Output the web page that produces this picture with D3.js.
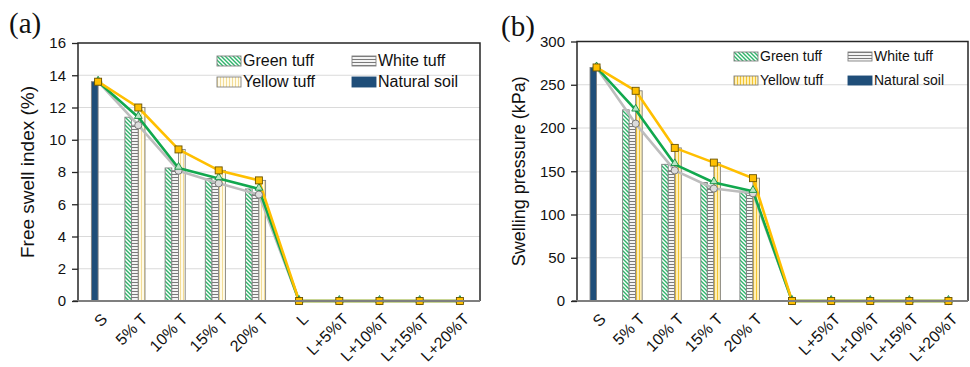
<!DOCTYPE html>
<html>
<head>
<meta charset="utf-8">
<script src="https://cdn.jsdelivr.net/npm/d3@7"></script>
<style>
  body { margin: 0; background: #fff; }
  svg { display: block; font-family: "Liberation Sans", Arial, sans-serif; }
</style>
</head>
<body>
<svg id="chart" width="970" height="367"></svg>
<script>
/* Categories on the x axis (same for both panels) */
const categories = ["S", "5% T", "10% T", "15% T", "20% T", "L", "L+5%T", "L+10%T", "L+15%T", "L+20%T"];
const seriesNames = ["Green tuff", "White tuff", "Yellow tuff", "Natural soil"];

/* (a) Free swell index (%) */
const fsiGreen   = [13.6, 11.4, 8.25, 7.6, 6.95, 0, 0, 0, 0, 0];
const fsiWhite   = [13.6, 10.9, 8.08, 7.3, 6.6, 0, 0, 0, 0, 0];
const fsiYellow  = [13.6, 12.0, 9.4, 8.1, 7.48, 0, 0, 0, 0, 0];
const fsiNatural = [13.6, 0, 0, 0, 0, 0, 0, 0, 0, 0];
const fsiTicks   = [0, 2, 4, 6, 8, 10, 12, 14, 16];

/* (b) Swelling pressure (kPa) */
const spGreen   = [270, 221, 158, 137, 127, 0, 0, 0, 0, 0];
const spWhite   = [270, 205, 151, 130, 124.5, 0, 0, 0, 0, 0];
const spYellow  = [270, 243, 177, 160, 142, 0, 0, 0, 0, 0];
const spNatural = [270, 0, 0, 0, 0, 0, 0, 0, 0, 0];
const spTicks   = [0, 50, 100, 150, 200, 250, 300];

const svg = d3.select("#chart");
const defs = svg.append("defs");

/* Hatch patterns for the bars */
function makePatterns(id, yellowBg, yellowLine) {
  let g = defs.append("pattern").attr("id", id + "_green")
    .attr("patternUnits", "userSpaceOnUse").attr("width", 4).attr("height", 4);
  g.append("rect").attr("width", 4).attr("height", 4).attr("fill", "#fff");
  g.append("path").attr("d", "M-1,-1L5,5M3,-1L5,1M-1,3L1,5")
    .attr("stroke", "#2fb46b").attr("stroke-width", 1.4);

  let w = defs.append("pattern").attr("id", id + "_white")
    .attr("patternUnits", "userSpaceOnUse").attr("width", 3).attr("height", 3);
  w.append("rect").attr("width", 3).attr("height", 3).attr("fill", "#f4f4f4");
  w.append("path").attr("d", "M0,0.5H3").attr("stroke", "#7a7a7a").attr("stroke-width", 1);

  let y = defs.append("pattern").attr("id", id + "_yellow")
    .attr("patternUnits", "userSpaceOnUse").attr("width", 3).attr("height", 3);
  y.append("rect").attr("width", 3).attr("height", 3).attr("fill", yellowBg);
  y.append("path").attr("d", "M0.5,0V3").attr("stroke", yellowLine).attr("stroke-width", 1);
}
makePatterns("pa", "#fffbe9", "#f3dc96");
makePatterns("pb", "#fff0b8", "#f2c431");

/**
 * Draw one panel of the figure.
 * @param {object} p - panel settings and data
 */
function drawPanel(p) {
  const x = d3.scaleBand().domain(categories).range([p.left, p.right]);
  const y = d3.scaleLinear().domain([0, p.ticks[p.ticks.length - 1]]).range([p.bottom, p.top]);
  const bw = x.bandwidth() / 6;
  const cx = function (i) { return x(categories[i]) + x.bandwidth() / 2; };
  const g = svg.append("g");

  /* gridlines */
  g.selectAll(".grid")
    .data(p.ticks.slice(1, -1))
    .enter().append("line")
    .attr("x1", p.left).attr("x2", p.right)
    .attr("y1", function (d) { return y(d); })
    .attr("y2", function (d) { return y(d); })
    .attr("stroke", "#dadada").attr("stroke-width", 1.2);

  /* bars: green, white, yellow tuff and natural soil */
  const bars = [
    { values: p.green, fill: "url(#" + p.id + "_green)", off: -2, tuff: true },
    { values: p.white, fill: "url(#" + p.id + "_white)", off: -1, tuff: true },
    { values: p.yellow, fill: "url(#" + p.id + "_yellow)", off: 0, tuff: true },
    { values: p.natural, fill: "#1f4e79", off: -1, tuff: false }
  ];
  bars.forEach(function (s) {
    const rows = s.values.map(function (v, i) { return { v: v, i: i }; })
      .filter(function (r) { return r.v > 0 && (s.tuff ? r.i > 0 : true); });
    g.selectAll(null)
      .data(rows)
      .enter().append("rect")
      .attr("x", function (r) { return cx(r.i) + s.off * bw; })
      .attr("y", function (r) { return y(r.v); })
      .attr("width", bw)
      .attr("height", function (r) { return p.bottom - y(r.v); })
      .attr("fill", s.fill)
      .attr("stroke", "#808080")
      .attr("stroke-width", 0.9);
  });

  /* lines */
  const line = d3.line()
    .x(function (d, i) { return cx(i); })
    .y(function (d) { return y(d); });
  [[p.white, "#bdbdbd"], [p.green, "#11a84e"], [p.yellow, "#ffbf00"]].forEach(function (s) {
    g.append("path").datum(s[0])
      .attr("d", line)
      .attr("fill", "none")
      .attr("stroke", s[1])
      .attr("stroke-width", 2.6)
      .attr("stroke-linejoin", "round");
  });

  /* markers */
  g.selectAll(null).data(p.white).enter().append("circle")
    .attr("cx", function (d, i) { return cx(i); })
    .attr("cy", function (d) { return y(d); })
    .attr("r", 3.6)
    .attr("fill", "#dcdcdc").attr("stroke", "#6e6e6e").attr("stroke-width", 0.9);
  g.selectAll(null).data(p.green).enter().append("path")
    .attr("d", d3.symbol().type(d3.symbolTriangle).size(26))
    .attr("transform", function (d, i) { return "translate(" + cx(i) + "," + (y(d) - 1) + ")"; })
    .attr("fill", "#b8e6c6").attr("stroke", "#0f8c3e").attr("stroke-width", 0.9);
  g.selectAll(null).data(p.yellow).enter().append("rect")
    .attr("x", function (d, i) { return cx(i) - 3.5; })
    .attr("y", function (d) { return y(d) - 3.5; })
    .attr("width", 7).attr("height", 7)
    .attr("fill", "#ffc000").attr("stroke", "#6b5300").attr("stroke-width", 0.9);

  /* plot frame and x axis line */
  g.append("path")
    .attr("d", "M" + p.left + "," + p.bottom + "V" + p.top + "H" + p.right + "V" + p.bottom)
    .attr("fill", "none").attr("stroke", "#262626").attr("stroke-width", 1.5);
  g.append("line")
    .attr("x1", p.left - 5).attr("x2", p.right)
    .attr("y1", p.bottom).attr("y2", p.bottom)
    .attr("stroke", "#7f7f7f").attr("stroke-width", 1.8);

  /* y axis */
  const yAxis = g.append("g")
    .attr("transform", "translate(" + p.left + ",0)")
    .call(d3.axisLeft(y).tickValues(p.ticks).tickSize(6).tickPadding(6));
  yAxis.select(".domain").remove();
  yAxis.selectAll(".tick line").attr("stroke", "#262626").attr("stroke-width", 1.3);
  yAxis.selectAll(".tick text")
    .style("font-family", "Liberation Sans, Arial, sans-serif")
    .style("font-size", "15px").attr("fill", "#111");

  /* x tick labels */
  g.selectAll(".xlab")
    .data(categories)
    .enter().append("text")
    .attr("transform", function (d, i) {
      return "translate(" + (cx(i) + 2) + "," + (p.bottom + 11) + ") rotate(-45)";
    })
    .attr("dy", "0.72em")
    .style("text-anchor", "end")
    .style("font-size", "16px")
    .attr("fill", "#111")
    .text(function (d) { return d; });

  /* y axis title */
  g.append("text")
    .attr("transform", "translate(" + p.titleX + "," + ((p.top + p.bottom) / 2) + ") rotate(-90)")
    .attr("dy", "0.35em")
    .style("text-anchor", "middle")
    .style("font-size", p.titleSize + "px")
    .attr("fill", "#111")
    .text(p.title);

  /* panel label */
  g.append("text")
    .attr("x", p.labelX).attr("y", p.labelY)
    .style("font-family", "Liberation Serif, Times New Roman, serif")
    .style("font-size", "29px")
    .attr("fill", "#111")
    .text(p.label);

  /* legend */
  const swatches = [
    { fill: "url(#" + p.id + "_green)", stroke: "#808080" },
    { fill: "url(#" + p.id + "_white)", stroke: "#808080" },
    { fill: "url(#" + p.id + "_yellow)", stroke: "#808080" },
    { fill: "#1f4e79", stroke: "#1f4e79" }
  ];
  const lg = g.selectAll(".legend-element")
    .data(seriesNames)
    .enter().append("g")
    .attr("transform", function (d, i) {
      const lx = p.legX + (i % 2) * p.legDx;
      const ly = p.legY + Math.floor(i / 2) * p.legDy;
      return "translate(" + lx + "," + ly + ")";
    });
  lg.append("rect")
    .attr("width", 24).attr("height", p.swH)
    .attr("fill", function (d, i) { return swatches[i].fill; })
    .attr("stroke", function (d, i) { return swatches[i].stroke; })
    .attr("stroke-width", 0.9);
  lg.append("text")
    .attr("x", 26).attr("y", p.swH)
    .style("font-size", p.legSize + "px")
    .attr("fill", "#111")
    .text(function (d) { return d; });
}

drawPanel({
  id: "pa", left: 78, right: 480, top: 43, bottom: 301, ticks: fsiTicks,
  green: fsiGreen, white: fsiWhite, yellow: fsiYellow, natural: fsiNatural,
  title: "Free swell index (%)", titleX: 27, titleSize: 19,
  label: "(a)", labelX: 9, labelY: 33,
  legX: 217, legY: 56, legDx: 135, legDy: 21, swH: 10, legSize: 16
});

drawPanel({
  id: "pb", left: 577, right: 968, top: 41.5, bottom: 301, ticks: spTicks,
  green: spGreen, white: spWhite, yellow: spYellow, natural: spNatural,
  title: "Swelling pressure (kPa)", titleX: 519, titleSize: 18,
  label: "(b)", labelX: 501, labelY: 36,
  legX: 734, legY: 52, legDx: 114, legDy: 24, swH: 9, legSize: 14
});
</script>
</body>
</html>
